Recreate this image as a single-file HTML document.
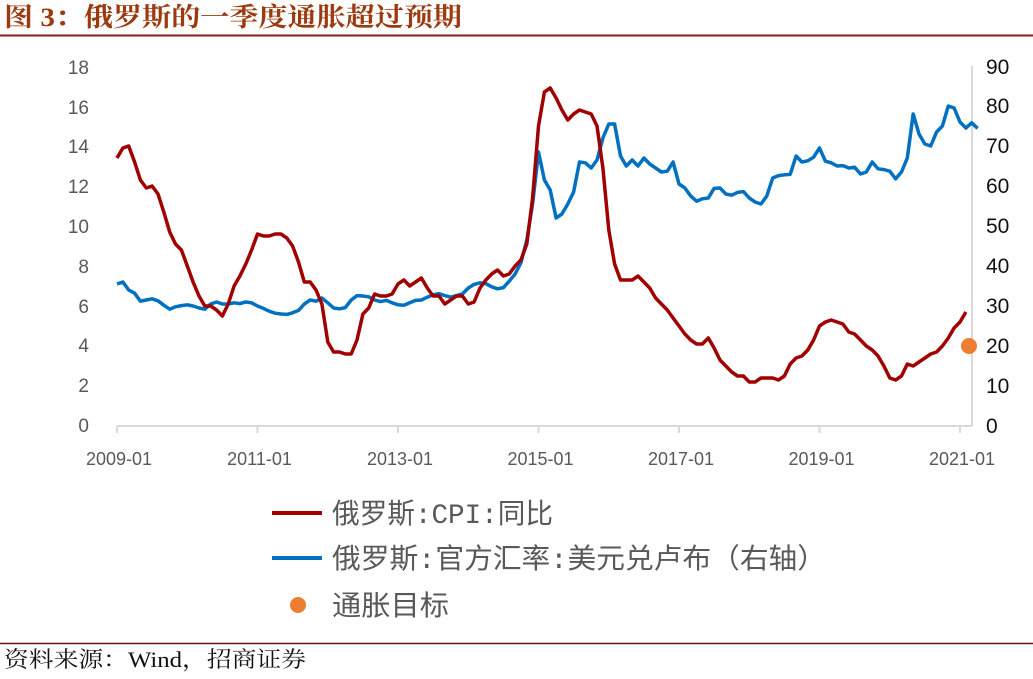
<!DOCTYPE html>
<html><head><meta charset="utf-8"><style>
body{margin:0;background:#fff;width:1033px;height:674px;overflow:hidden;font-family:"Liberation Sans","Noto Sans CJK SC",sans-serif}
</style></head><body>
<svg id="s" width="1033" height="674" xmlns="http://www.w3.org/2000/svg">
<text x="4" y="26" font-family="'Liberation Serif','Noto Serif CJK SC',serif" font-weight="bold" font-size="26" fill="#9a3a0e" textLength="458" lengthAdjust="spacingAndGlyphs">图 3：俄罗斯的一季度通胀超过预期</text>
<line x1="0" y1="35.5" x2="1033" y2="35.5" stroke="#8b1a1a" stroke-width="2"/>
<g font-size="19" fill="#595959" text-anchor="end" font-family="'Liberation Sans',sans-serif">
<text x="89" y="432">0</text><text x="89" y="392">2</text><text x="89" y="352">4</text><text x="89" y="313">6</text><text x="89" y="273">8</text><text x="89" y="233">10</text><text x="89" y="193">12</text><text x="89" y="153">14</text><text x="89" y="114">16</text><text x="89" y="74">18</text>
</g>
<g font-size="21" fill="#111" font-family="'Liberation Sans',sans-serif">
<text x="986" y="433">0</text><text x="986" y="393">10</text><text x="986" y="353">20</text><text x="986" y="313">30</text><text x="986" y="273">40</text><text x="986" y="233">50</text><text x="986" y="193">60</text><text x="986" y="153">70</text><text x="986" y="113">80</text><text x="986" y="74">90</text>
</g>
<g stroke="#d9d9d9" stroke-width="2" fill="none">
<line x1="117" y1="426" x2="972" y2="426"/><line x1="972" y1="66" x2="972" y2="426"/>
</g>
<g id="ticks" stroke="#d9d9d9" stroke-width="2"></g>
<g font-size="18" fill="#595959" text-anchor="middle" id="xl"></g>
<polyline id="fx" fill="none" stroke="#0070c0" stroke-width="3.5" stroke-linejoin="round"/>
<polyline id="cpi" fill="none" stroke="#a00000" stroke-width="3.5" stroke-linejoin="round"/>
<circle cx="969" cy="346" r="8" fill="#ed7d31"/>
<g font-family="'Liberation Mono','Noto Sans CJK SC',sans-serif" font-size="28" fill="#595959">
<line x1="272" y1="513" x2="322" y2="513" stroke="#a00000" stroke-width="4"/>
<text x="332" y="523" textLength="221" lengthAdjust="spacingAndGlyphs">俄罗斯:CPI:同比</text>
<line x1="272" y1="558" x2="322" y2="558" stroke="#0070c0" stroke-width="4"/>
<text x="332" y="568" textLength="494" lengthAdjust="spacingAndGlyphs">俄罗斯:官方汇率:美元兑卢布（右轴）</text>
<circle cx="298" cy="605" r="8" fill="#ed7d31"/>
<text x="332" y="615" textLength="117" lengthAdjust="spacingAndGlyphs">通胀目标</text>
</g>
<line x1="0" y1="643.5" x2="1033" y2="643.5" stroke="#6b1010" stroke-width="1.5"/>
<text x="4" y="667" font-family="'Liberation Serif','Noto Serif CJK SC',serif" font-size="22" fill="#111" textLength="302" lengthAdjust="spacingAndGlyphs">资料来源：Wind，招商证券</text>
</svg>
<script>
var cpi=[13.4,13.9,14.0,13.2,12.3,11.9,12.0,11.6,10.7,9.7,9.1,8.8,8.0,7.2,6.5,6.0,6.0,5.8,5.5,6.1,7.0,7.5,8.1,8.8,9.6,9.5,9.5,9.6,9.6,9.4,9.0,8.2,7.2,7.2,6.8,6.1,4.2,3.7,3.7,3.6,3.6,4.3,5.6,5.9,6.6,6.5,6.5,6.6,7.1,7.3,7.0,7.2,7.4,6.9,6.5,6.5,6.1,6.3,6.5,6.5,6.1,6.2,6.9,7.3,7.6,7.8,7.5,7.6,8.0,8.3,9.1,11.4,15.0,16.7,16.9,16.4,15.8,15.3,15.6,15.8,15.7,15.6,15.0,12.9,9.8,8.1,7.3,7.3,7.3,7.5,7.2,6.9,6.4,6.1,5.8,5.4,5.0,4.6,4.3,4.1,4.1,4.4,3.9,3.3,3.0,2.7,2.5,2.5,2.2,2.2,2.4,2.4,2.4,2.3,2.5,3.1,3.4,3.5,3.8,4.3,5.0,5.2,5.3,5.2,5.1,4.7,4.6,4.3,4.0,3.8,3.5,3.0,2.4,2.3,2.5,3.1,3.0,3.2,3.4,3.6,3.7,4.0,4.4,4.9,5.2,5.7];
var fx=[35.5,36,34,33.2,31.2,31.5,31.8,31.3,30.2,29.2,29.8,30.1,30.3,30,29.5,29.2,30.5,31,30.5,30.5,30.8,30.6,31,30.8,30,29.4,28.7,28.2,28,27.9,28.3,28.9,30.5,31.5,31.2,32,30.8,29.5,29.3,29.6,31.5,32.6,32.5,32.3,31.5,31.1,31.4,30.8,30.3,30.2,30.8,31.4,31.5,32.2,32.8,33.1,32.6,32.2,32.6,33,34.5,35.4,35.8,35.6,34.8,34.3,34.6,36.2,38,40.8,46.5,55.5,68.5,61.5,59,52,53,55.5,58.5,66,65.8,64.5,66.5,72,75.5,75.5,67.5,65,66.5,65,67,65.5,64.5,63.5,63.7,66,60.5,59.5,57.5,56.2,56.8,57,59.4,59.5,58,57.7,58.4,58.6,57,56,55.5,57.5,62,62.6,62.8,62.9,67.5,66,66.3,67.2,69.5,66.2,65.8,65,65.1,64.5,64.7,63,63.5,66,64.3,64.1,63.7,61.8,63.5,67,78,73,70.5,70,73.5,75,80,79.5,76,74.5,75.8,74.4];
function X(i){return 117+i*140.5/24}
function pts(a,s){return a.map(function(v,i){return X(i).toFixed(1)+','+(426-v*s).toFixed(1)}).join(' ')}
document.getElementById('cpi').setAttribute('points',pts(cpi,20));
document.getElementById('fx').setAttribute('points',pts(fx,4));
var t='',l='';
for(var k=0;k<=6;k++){var x=117+k*140.5;t+='<line x1="'+x+'" y1="426" x2="'+x+'" y2="433"/>';l+='<text x="'+(x+2)+'" y="465">'+(2009+2*k)+'-01</text>';}
document.getElementById('ticks').innerHTML=t;document.getElementById('xl').innerHTML=l;
</script>
</body></html>
